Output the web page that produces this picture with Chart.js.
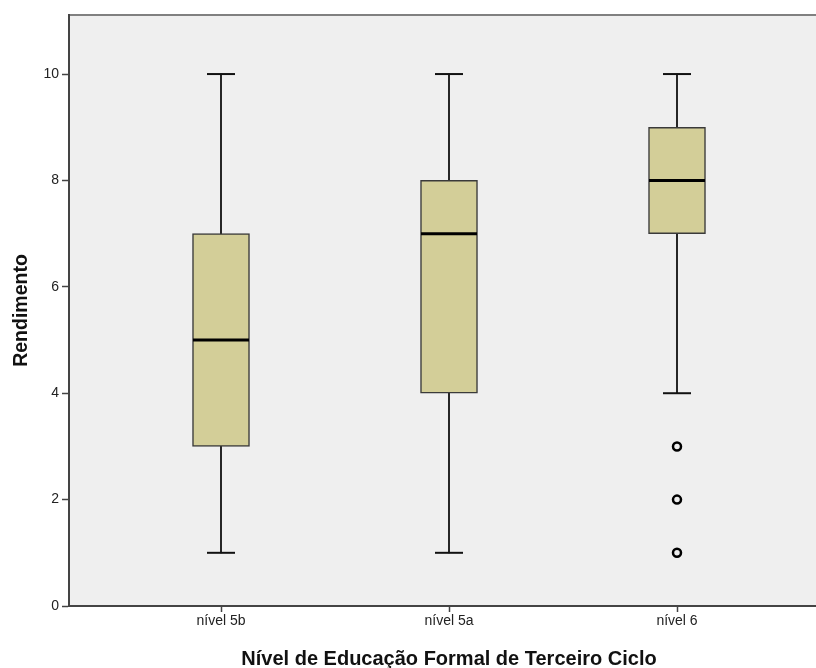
<!DOCTYPE html>
<html>
<head>
<meta charset="utf-8">
<script src="https://cdn.jsdelivr.net/npm/chart.js@4/dist/chart.umd.min.js"></script>
<style>
  html, body { margin: 0; padding: 0; overflow: hidden; background: #fff; }
</style>
</head>
<body>
<canvas id="chart1" width="829" height="668"></canvas>
<script>
// categorias e estatísticas do boxplot
let categories = ['nível 5b', 'nível 5a', 'nível 6'];
let minimos = [1, 1, 4];
let q1 = [3, 4, 7];
let medianas = [5, 7, 8];
let q3 = [7, 8, 9];
let maximos = [10, 10, 10];
let outliersCat = [3, 3, 3];
let outliersVal = [3, 2, 1];
let yTicks = [0, 2, 4, 6, 8, 10];

let pos = categories.map((c, i) => i + 1);

let caixas = pos.map((x, i) => ({ x: x, y: [q1[i], q3[i]] }));
let bigodes = pos.map((x, i) => ({ x: x, y: [minimos[i], maximos[i]] }));
let topos = pos.map((x, i) => ({ x: x, y: maximos[i] }));
let bases = pos.map((x, i) => ({ x: x, y: minimos[i] }));
let meds = pos.map((x, i) => ({ x: x, y: medianas[i] }));
let outs = outliersCat.map((c, i) => ({ x: c, y: outliersVal[i] }));

// fundo cinzento e linha de cima da moldura
let fundo = {
    id: 'fundo',
    beforeDraw(chart) {
        let a = chart.chartArea;
        let ctx = chart.ctx;
        ctx.save();
        ctx.fillStyle = '#efefef';
        ctx.fillRect(a.left, a.top, a.right - a.left, a.bottom - a.top);
        ctx.strokeStyle = '#808080';
        ctx.lineWidth = 2;
        ctx.beginPath();
        ctx.moveTo(a.left, a.top);
        ctx.lineTo(a.right, a.top);
        ctx.stroke();
        ctx.restore();
    }
};

let ctx1 = document.getElementById('chart1').getContext('2d');
new Chart(ctx1, {
    type: 'bar',
    data: {
        datasets: [
            {
                type: 'scatter', data: outs, order: 0,
                pointStyle: 'circle', pointRadius: 4, borderWidth: 2.5,
                borderColor: '#000', backgroundColor: '#efefef'
            },
            {
                type: 'scatter', data: meds, order: 1,
                pointStyle: 'line', pointRadius: 28, borderWidth: 3, borderColor: '#000'
            },
            {
                type: 'bar', data: caixas, order: 2, grouped: false,
                barThickness: 57, backgroundColor: '#d3ce98',
                borderColor: '#3a3a3a', borderWidth: 1.5, borderSkipped: false
            },
            {
                type: 'scatter', data: topos, order: 3,
                pointStyle: 'line', pointRadius: 14, borderWidth: 2, borderColor: '#111'
            },
            {
                type: 'scatter', data: bases, order: 3,
                pointStyle: 'line', pointRadius: 14, borderWidth: 2, borderColor: '#111'
            },
            {
                type: 'bar', data: bigodes, order: 4, grouped: false,
                barThickness: 1.3, backgroundColor: '#222', borderWidth: 0
            }
        ]
    },
    plugins: [fundo],
    options: {
        responsive: false,
        animation: false,
        layout: { autoPadding: false, padding: { top: 15, left: 0, right: 0, bottom: 0 } },
        plugins: { legend: { display: false }, tooltip: { enabled: false } },
        scales: {
            x: {
                type: 'linear',
                offset: false,
                min: 1 / 3,
                max: 11 / 3,
                afterBuildTicks: scale => { scale.ticks = pos.map(v => ({ value: v })); },
                afterFit: scale => { scale.height = 62; },
                ticks: {
                    callback: v => categories[v - 1],
                    color: '#222',
                    font: { family: 'Liberation Sans', size: 14 },
                    padding: 1,
                    maxRotation: 0
                },
                grid: { offset: false, drawOnChartArea: false, tickLength: 6, color: '#444', tickWidth: 1.5 },
                border: { color: '#444', width: 2 },
                title: {
                    display: true,
                    text: 'Nível de Educação Formal de Terceiro Ciclo',
                    color: '#111',
                    font: { family: 'Liberation Sans', size: 20, weight: 'bold' },
                    padding: { top: 0, bottom: -3 }
                }
            },
            y: {
                min: 0,
                max: 11.11,
                afterBuildTicks: scale => { scale.ticks = yTicks.map(v => ({ value: v })); },
                afterFit: scale => { scale.width = 69; },
                ticks: {
                    color: '#222',
                    font: { family: 'Liberation Sans', size: 14 },
                    padding: 3
                },
                grid: { drawOnChartArea: false, tickLength: 7, color: '#444', tickWidth: 1.5 },
                border: { color: '#444', width: 2 },
                title: {
                    display: true,
                    text: 'Rendimento',
                    color: '#111',
                    font: { family: 'Liberation Sans', size: 19.5, weight: 'bold' },
                    padding: { top: 10, bottom: 0 }
                }
            }
        }
    }
});
</script>
</body>
</html>
